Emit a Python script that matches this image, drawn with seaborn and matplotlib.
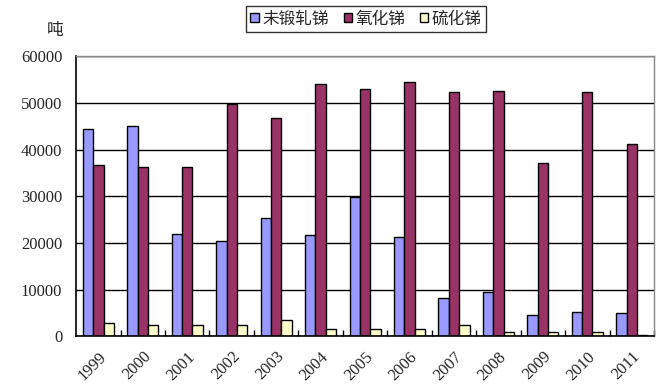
import pandas as pd
import matplotlib.pyplot as plt
import seaborn as sns
from matplotlib.ticker import MultipleLocator, FixedLocator

# Data (吨)
years = ["1999", "2000", "2001", "2002", "2003", "2004", "2005",
         "2006", "2007", "2008", "2009", "2010", "2011"]
unwrought = [44300, 45000, 22000, 20300, 25300, 21600, 29800,
             21200, 8100, 9400, 4500, 5100, 4900]
oxide = [36600, 36200, 36200, 49700, 46700, 54000, 52900,
         54400, 52300, 52500, 37100, 52300, 41100]
sulfide = [2900, 2500, 2500, 2400, 3400, 1500, 1600,
           1500, 2300, 1000, 1000, 800, 300]
series = ["未锻轧锑", "氧化锑", "硫化锑"]
colors = ["#9999FF", "#993366", "#FFFFCC"]

df = pd.DataFrame({"year": years * 3,
                   "value": unwrought + oxide + sulfide,
                   "kind": [s for s in series for _ in years]})

sns.set_style("white")
plt.rcParams["font.family"] = ["Liberation Serif", "Noto Sans CJK SC", "DejaVu Sans"]

fig = plt.figure(figsize=(6.68, 3.9), dpi=100)
ax = fig.add_axes([0.114, 0.138, 0.865, 0.718])

sns.barplot(data=df, x="year", y="value", hue="kind", palette=colors,
            width=0.7, gap=0, edgecolor="black", linewidth=1,
            saturation=1, ax=ax, legend=False)

ax.set_ylim(0, 60000)
ax.set_xlim(-0.5, len(years) - 0.5)
ax.yaxis.set_major_locator(MultipleLocator(10000))
ax.yaxis.grid(True, color="black", linewidth=1)
ax.set_axisbelow(True)
ax.set_xlabel("")
ax.set_ylabel("")

ax.set_xticks(range(len(years)))
ax.set_xticklabels(years, rotation=45, ha="right", rotation_mode="anchor",
                   fontsize=12)
ax.xaxis.set_minor_locator(FixedLocator([i + 0.5 for i in range(len(years))]))
ax.tick_params(axis="x", which="major", length=0, pad=9)
ax.tick_params(axis="x", which="minor", direction="in", length=4, width=1,
               color="black", bottom=True)
ax.tick_params(axis="y", length=0, labelsize=12, pad=10)

for side in ["left", "bottom"]:
    ax.spines[side].set_color("black")
    ax.spines[side].set_linewidth(1.2)
for side in ["top", "right"]:
    ax.spines[side].set_color("#888888")
    ax.spines[side].set_linewidth(1)

fig.text(0.083, 0.923, "吨", fontsize=12, ha="center", va="center",
         family=["Noto Sans CJK SC"])

handles = [plt.Rectangle((0, 0), 1, 1, facecolor=c, edgecolor="black", linewidth=1)
           for c in colors]
leg = fig.legend(handles, series, loc="center", bbox_to_anchor=(0.548, 0.951),
                 ncol=3, frameon=True, fancybox=False, edgecolor="black",
                 handlelength=0.5, handleheight=0.5, handletextpad=0.2,
                 columnspacing=0.9, borderpad=0.25, borderaxespad=0,
                 prop={"family": ["Noto Sans CJK SC"], "size": 12})
leg.get_frame().set_linewidth(1)

fig.savefig("out.png", dpi=100)
